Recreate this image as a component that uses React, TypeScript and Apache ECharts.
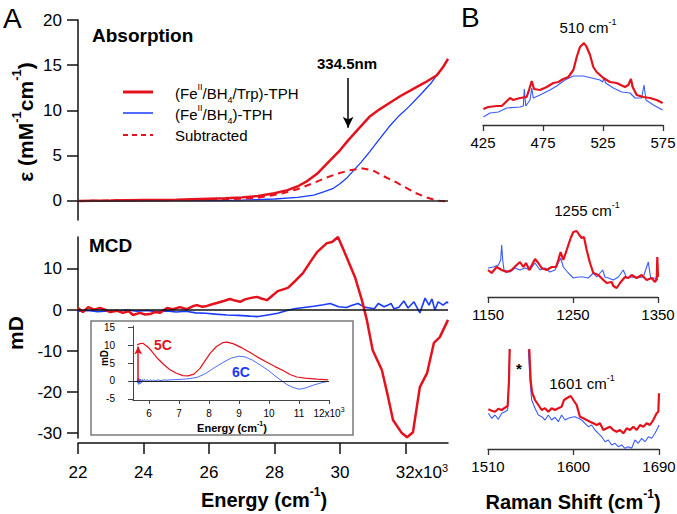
import React, { useEffect, useRef } from "react";
import * as echarts from "echarts";

const FONT = "'Liberation Sans', Arial, Helvetica, sans-serif";
const RED = "#e3121c";
const BLUE = "#1a3bff";
const BLUE_LIGHT = "#3a5cff";
const AXIS = "#111";

// ---------- Tick values ----------
const energyTicks = [22, 24, 26, 28, 30, 32];
const epsTicks = [0, 5, 10, 15, 20];
const mcdTicks = [-30, -20, -10, 0, 10];
const insetXTicks = [6, 7, 8, 9, 10, 11, 12];
const insetYTicks = [-5, 0, 5, 10, 15];
const raman510Ticks = [425, 475, 525, 575];
const raman1255Ticks = [1150, 1250, 1350];
const raman1601Ticks = [1510, 1600, 1690];

// ---------- Absorption (energy x10^3 cm-1, epsilon mM-1 cm-1) ----------
const absTrpTPH = [[22.0,0.0],[22.5,0.03],[23.0,0.05],[23.5,0.08],[24.0,0.1],[24.5,0.12],[25.0,0.15],[25.5,0.2],[26.0,0.25],[26.5,0.3],[27.0,0.4],[27.5,0.55],[28.0,0.85],[28.4,1.2],[28.7,1.6],[29.0,2.2],[29.3,3.0],[29.7,4.5],[30.0,5.6],[30.25,6.7],[30.6,8.1],[30.9,9.3],[31.2,10.1],[31.5,10.8],[31.85,11.6],[32.2,12.3],[32.6,13.1],[32.96,13.9],[33.15,14.8],[33.3,15.7]];
const absTPH = [[22.0,0.0],[23.0,0.0],[24.0,0.02],[25.0,0.03],[26.0,0.05],[27.0,0.1],[27.5,0.15],[28.0,0.22],[28.7,0.4],[29.2,0.65],[29.5,1.0],[29.8,1.4],[30.0,1.9],[30.2,2.5],[30.4,3.3],[30.65,4.3],[30.9,5.4],[31.2,6.8],[31.5,8.2],[31.8,9.4],[32.1,10.4],[32.5,11.9],[32.8,13.1],[32.96,13.9],[33.15,14.8],[33.3,15.7]];
const absSubtracted = [[22.0,0.0],[23.0,0.05],[24.0,0.08],[25.0,0.1],[26.0,0.15],[27.0,0.25],[27.5,0.35],[28.2,0.8],[28.7,1.3],[29.2,2.0],[29.6,2.6],[29.9,3.0],[30.3,3.4],[30.7,3.6],[31.0,3.4],[31.3,2.8],[31.7,2.1],[32.0,1.5],[32.3,0.9],[32.6,0.45],[32.96,0.05],[33.3,-0.05]];

// ---------- MCD (mdeg) ----------
const mcdTrpTPH = [[22.0,0.5],[22.15,-0.5],[22.31,0.7],[22.5,0.1],[22.67,0.5],[22.85,0.0],[22.98,-0.5],[23.2,-0.2],[23.37,-0.7],[23.55,-0.3],[23.68,-1.2],[23.89,-0.7],[24.05,-1.1],[24.2,-1.0],[24.35,-0.5],[24.5,-0.7],[24.72,0.5],[24.9,0.2],[25.11,0.7],[25.33,0.2],[25.5,0.9],[25.63,1.2],[25.8,0.8],[25.94,1.0],[26.1,1.4],[26.24,1.7],[26.45,2.2],[26.64,2.7],[26.8,2.3],[26.95,2.0],[27.1,2.6],[27.25,2.9],[27.47,3.2],[27.6,2.8],[27.77,2.4],[27.95,3.6],[28.1,4.6],[28.41,5.4],[28.65,7.2],[28.87,9.0],[29.1,11.8],[29.3,14.1],[29.45,15.2],[29.6,16.3],[29.76,16.6],[29.94,17.8],[30.15,13.9],[30.46,8.0],[30.67,2.4],[30.82,-2.4],[31.0,-9.8],[31.28,-14.6],[31.45,-20.5],[31.62,-26.8],[31.89,-30.0],[32.05,-31.0],[32.23,-29.8],[32.44,-18.8],[32.66,-15.4],[32.87,-8.0],[33.05,-6.6],[33.3,-2.4]];
const mcdTPH = [[22.0,-0.3],[22.3,-0.1],[22.6,-0.4],[22.9,-0.2],[23.2,-0.3],[23.5,0.0],[23.8,-0.3],[24.1,-0.1],[24.4,-0.4],[24.7,-0.2],[25.0,-0.5],[25.3,-0.3],[25.6,-0.7],[25.9,-0.8],[26.2,-1.0],[26.55,-1.2],[26.9,-1.3],[27.25,-1.5],[27.5,-1.6],[27.8,-1.2],[28.1,-0.8],[28.3,-0.3],[28.6,0.3],[28.9,0.6],[29.2,0.9],[29.5,1.3],[29.7,1.6],[29.96,0.8],[30.2,0.6],[30.35,1.1],[30.55,1.6],[30.75,0.7],[30.9,0.5],[31.05,0.3],[31.17,1.6],[31.35,0.8],[31.47,1.2],[31.56,1.6],[31.65,0.3],[31.8,0.7],[31.95,2.2],[32.08,0.5],[32.26,2.0],[32.44,-0.7],[32.6,2.9],[32.72,1.2],[32.81,2.7],[32.9,0.0],[33.0,2.0],[33.15,1.2],[33.27,2.0],[33.3,1.6]];

// ---------- Inset MCD (energy x10^3 cm-1, mdeg) ----------
const inset5C = [[5.6,10.0],[5.7,10.4],[5.8,10.5],[5.97,9.4],[6.1,8.2],[6.27,6.4],[6.5,4.5],[6.7,3.1],[6.9,2.2],[7.13,1.5],[7.3,1.4],[7.5,1.9],[7.7,3.5],[7.9,6.0],[8.05,7.8],[8.25,9.6],[8.47,10.7],[8.6,10.8],[8.8,10.4],[9.1,9.2],[9.37,7.9],[9.65,6.5],[9.93,5.2],[10.2,4.0],[10.47,2.9],[10.7,1.8],[10.93,1.1],[11.2,0.8],[11.6,0.5],[11.97,0.3]];
const inset6C = [[5.6,0.2],[5.62,-0.6],[5.64,0.8],[5.66,-1.0],[5.68,0.6],[5.7,-0.8],[5.72,0.5],[5.75,-0.5],[5.78,0.4],[5.8,-0.3],[5.85,0.5],[5.9,-0.3],[5.95,0.4],[6.0,-0.2],[6.05,0.4],[6.1,-0.1],[6.15,0.3],[6.2,0.0],[6.3,0.3],[6.4,0.1],[6.5,0.3],[6.6,0.2],[6.7,0.3],[7.0,0.4],[7.3,0.6],[7.6,1.0],[7.8,1.7],[8.0,2.7],[8.2,3.8],[8.5,5.3],[8.75,6.4],[9.0,6.9],[9.2,6.7],[9.45,5.8],[9.7,4.5],[10.0,2.8],[10.2,1.4],[10.4,0.2],[10.6,-1.0],[10.8,-1.8],[11.0,-2.3],[11.2,-2.0],[11.5,-1.1],[11.8,-0.4],[11.97,-0.1]];

// ---------- Raman (shift cm-1, intensity a.u.) ----------
const raman510Trp = [[425.3,16],[429.4,18],[436.4,19],[440.6,19],[447.5,27],[450.3,25],[455.8,27],[461.4,28],[463.6,36],[465.6,44],[467.5,36],[472.5,35],[478.1,38],[483.6,42],[487.8,43],[491.9,46],[496.1,48],[500.3,55],[503.1,68],[505.8,78],[509.2,82],[511.4,78],[514.2,70],[516.9,58],[519.7,53],[525.3,47],[530.8,43],[536.4,42],[543.3,38],[546.1,40],[548.3,46],[549.7,38],[553.1,30],[558.6,28],[564.2,27],[569.7,25],[574.7,22]];
const raman510 = [[425.3,8],[430.8,12],[437.8,13],[444.7,17],[455.8,18],[458.6,19],[459.4,36],[460.6,19],[464.2,25],[465.6,37],[466.9,27],[472.5,30],[480.8,35],[486.4,39],[493.3,45],[500.3,49],[508.6,49],[515.6,47],[522.5,45],[524.7,43],[525.8,47],[527.2,42],[533.6,37],[540.6,33],[547.5,32],[551.7,27],[557.2,27],[559.2,40],[560.8,25],[567.0,20],[574.7,15]];
const raman1255Trp = [[1150,27],[1154.3,24],[1160.2,30],[1166.1,27],[1172,25],[1177.8,27],[1183.7,32],[1187.6,35],[1191.6,30],[1194.7,34],[1198.6,27],[1205.3,38],[1209.2,34],[1213.1,29],[1219,27],[1224.9,30],[1230,30],[1232.7,37],[1235.5,45],[1238.6,37],[1242.6,47],[1247.3,59],[1250.4,65],[1254.3,66],[1257.4,62],[1260.2,59],[1262.9,60],[1266.1,47],[1270,34],[1273.9,24],[1279.8,22],[1285.7,17],[1289.6,14],[1295.5,15],[1297.5,11],[1301.4,9],[1305.3,14],[1311.2,20],[1315.1,19],[1319,22],[1324.9,19],[1330.8,22],[1336.7,17],[1342.6,19],[1346.5,15],[1348.5,18],[1349.2,40],[1350,20]];
const raman1255 = [[1150,29],[1156.3,30],[1162.2,32],[1164.9,37],[1166.1,52],[1167.3,37],[1168.8,27],[1175.9,25],[1181.8,29],[1187.6,27],[1193.5,29],[1199.4,27],[1205.3,34],[1211.2,27],[1217.1,29],[1222.9,25],[1228.8,27],[1232.7,34],[1235.5,39],[1238.6,30],[1244.5,24],[1250.4,19],[1256.3,20],[1262.2,20],[1268,19],[1273.9,24],[1277.8,20],[1284.9,27],[1287.6,20],[1291.6,19],[1297.5,17],[1303.3,20],[1309.2,27],[1313.1,19],[1319,20],[1324.9,19],[1332.7,20],[1338.6,35],[1341.4,19],[1346.5,19],[1350,17]];
const raman1601Trp = [[1510.4,39.7],[1513.9,38.3],[1517.4,37.3],[1520.9,40.3],[1524.4,39],[1527.9,41.3],[1530.7,43],[1532.1,69],[1532.8,99],[1534,220],[1552,220],[1553.5,99],[1554.9,69],[1556.3,57],[1559.5,49],[1563,44],[1566.5,39],[1570,40.7],[1573.5,37.3],[1577,40.7],[1580.5,39],[1584,40.7],[1587.5,42.3],[1590,49],[1592.8,50.7],[1597,53],[1599.8,49],[1603.3,44],[1606.8,32.3],[1610.4,30.7],[1613.9,29],[1617.4,27.3],[1620.9,25.7],[1624.4,24],[1627.9,25.7],[1631.4,19],[1634.9,20.7],[1638.4,22.3],[1641.9,19],[1645.4,17.3],[1648.9,19],[1652.5,15.7],[1656,20.7],[1659.5,19],[1663,22.3],[1666.5,19],[1670,24],[1673.5,22.3],[1677,25.7],[1680.5,24],[1684,29],[1687.5,35.7],[1689.3,37.3],[1690,55.7]];
const raman1601 = [[1510.4,35.7],[1513.9,30.7],[1517.4,34],[1520.9,29.7],[1524.4,35.7],[1527.9,37.3],[1530.7,39],[1532.1,69],[1532.8,99],[1534,220],[1551,220],[1552.5,99],[1554.2,69],[1556,49],[1559.5,40.7],[1563,34],[1566.5,32.3],[1570,29],[1573.5,34],[1577,29],[1580.5,31.7],[1584,27.3],[1587.5,34],[1591.1,29],[1594.6,30.7],[1598.1,31.7],[1601.6,32.3],[1605.1,30.7],[1608.6,29],[1612.1,25.7],[1615.6,22.3],[1619.1,24],[1622.6,19],[1626.1,15.7],[1629.6,12.3],[1633.2,7.3],[1636.7,9],[1640.2,4],[1643.7,5.7],[1647.2,2.3],[1650.7,4],[1654.2,0.7],[1657.7,2.3],[1661.2,0.7],[1664.7,9],[1668.2,5.7],[1671.8,10.7],[1675.3,7.3],[1678.8,12.3],[1682.3,10.7],[1685.8,15.7],[1689.3,22.3],[1690,24]];

// ---------- helpers ----------
function gRich(size: number, weight: string, fill: string, lh: number) {
  const s = Math.round(size * 0.62);
  return {
    n: { fontSize: size, fontWeight: weight, fontFamily: FONT, fill, lineHeight: lh, verticalAlign: "middle" },
    sup: { fontSize: s, fontWeight: weight, fontFamily: FONT, fill, lineHeight: s, verticalAlign: "top" },
    sub: { fontSize: s, fontWeight: weight, fontFamily: FONT, fill, lineHeight: s, verticalAlign: "bottom" },
  };
}

function gText(x: number, y: number, text: string, rich: any, align = "left", rotation = 0) {
  return {
    type: "text",
    x,
    y,
    rotation,
    silent: true,
    z: 50,
    style: { text, rich, align, verticalAlign: "middle", textAlign: align, textVerticalAlign: "middle" },
  };
}

function lineSeries(name: string, xi: number, data: number[][], color: string, width: number, extra: any = {}) {
  return {
    name,
    type: "line",
    xAxisIndex: xi,
    yAxisIndex: xi,
    data,
    showSymbol: false,
    symbol: "none",
    silent: true,
    animation: false,
    lineStyle: { color, width, ...(extra.lineType ? { type: extra.lineType } : {}) },
    itemStyle: { color },
    ...(extra.markLine ? { markLine: extra.markLine } : {}),
    z: extra.z || 2,
  };
}

const zeroLine = (color: string, width: number) => ({
  silent: true,
  symbol: ["none", "none"],
  label: { show: false },
  lineStyle: { color, width, type: "solid" },
  data: [{ yAxis: 0 }],
  animation: false,
});

const arrowLine = (x: number, y1: number, y2: number, color: string, width: number, size: number[]) => ({
  silent: true,
  symbol: ["none", "arrow"],
  symbolSize: size,
  label: { show: false },
  lineStyle: { color, width, type: "solid" },
  data: [[{ coord: [x, y1] }, { coord: [x, y2] }]],
  animation: false,
});

const plainFormatter = (v: number) => String(v);

function valueAxis(gridIndex: number, min: number, max: number, ticks: number[], o: any = {}) {
  const lineStyle = { color: o.color || AXIS, width: o.width || 1.5 };
  return {
    gridIndex,
    type: "value",
    min,
    max,
    show: o.show !== false,
    position: o.position,
    offset: o.offset || 0,
    axisLine: { show: true, onZero: false, lineStyle },
    axisTick: { show: true, inside: false, length: o.tickLen || 10, customValues: ticks, lineStyle },
    axisLabel: {
      show: true,
      customValues: ticks,
      margin: o.margin || 8,
      color: "#000",
      fontSize: o.fontSize || 17,
      fontFamily: FONT,
      formatter: o.formatter || plainFormatter,
      ...(o.rich ? { rich: o.rich } : {}),
    },
    splitLine: { show: false },
  };
}

function axisRich(size: number, supSize: number, pad: number) {
  return {
    n: { fontSize: size, fontFamily: FONT, color: "#000", lineHeight: size + 4, verticalAlign: "middle" },
    p: { fontSize: size, fontFamily: FONT, color: "#000", lineHeight: size + 4, verticalAlign: "middle", padding: [0, 0, 0, pad] },
    sup: { fontSize: supSize, fontFamily: FONT, color: "#000", lineHeight: supSize, verticalAlign: "top" },
  };
}

export default function App() {
  const ref = useRef<HTMLDivElement>(null);

  useEffect(() => {
    if (!ref.current) return;
    const chart = echarts.init(ref.current, null, { renderer: "svg" });

    const bold19 = gRich(19, "bold", "#000", 24);
    const bold20 = gRich(20, "bold", "#000", 28);
    const legend15 = gRich(15, "normal", "#000", 22);
    const raman15 = gRich(15, "normal", "#000", 20);
    const ramanAxis = { position: "bottom", color: "#333", width: 1.3, tickLen: 6, margin: 10, fontSize: 15 };

    const option: any = {
      animation: false,
      backgroundColor: "#ffffff",
      textStyle: { fontFamily: FONT },
      grid: [
        { left: 78, top: 20, width: 370, height: 200, outerBoundsMode: "none" },
        { left: 78, top: 237, width: 370, height: 201, outerBoundsMode: "none" },
        { left: 133, top: 326, width: 196, height: 74, outerBoundsMode: "none" },
        { left: 483, top: 35, width: 180, height: 90, outerBoundsMode: "none" },
        { left: 488, top: 220, width: 170, height: 77, outerBoundsMode: "none" },
        { left: 488, top: 350, width: 171, height: 99, outerBoundsMode: "none" },
      ],
      xAxis: [
        { gridIndex: 0, type: "value", min: 22, max: 33.3, show: false },
        valueAxis(1, 22, 33.3, energyTicks, {
          position: "bottom",
          offset: 5,
          tickLen: 11,
          margin: 19,
          formatter: (v: number) => (v === 32 ? "{p|32}{n|x10}{sup|3}" : "{n|" + v + "}"),
          rich: axisRich(17, 11, 33),
        }),
        valueAxis(2, 5.467, 12, insetXTicks, {
          position: "bottom",
          color: "#444",
          width: 1,
          tickLen: 4,
          margin: 6,
          fontSize: 10,
          formatter: (v: number) => (v === 12 ? "{n|12x10}{sup|3}" : "{n|" + v + "}"),
          rich: axisRich(10, 7, 0),
        }),
        valueAxis(3, 425, 575, raman510Ticks, ramanAxis),
        valueAxis(4, 1150, 1350, raman1255Ticks, ramanAxis),
        valueAxis(5, 1510, 1690, raman1601Ticks, ramanAxis),
      ],
      yAxis: [
        valueAxis(0, -2.1, 20, epsTicks, { tickLen: 11, margin: 16 }),
        valueAxis(1, -31.2, 17.8, mcdTicks, { tickLen: 11, margin: 16 }),
        valueAxis(2, -5.3, 15.3, insetYTicks, { color: "#444", width: 1, tickLen: 5, margin: 18, fontSize: 10 }),
        { gridIndex: 3, type: "value", min: 0, max: 90, show: false },
        { gridIndex: 4, type: "value", min: 0, max: 77, show: false },
        { gridIndex: 5, type: "value", min: 0, max: 99, show: false },
      ],
      series: [
        lineSeries("(FeII/BH4)-TPH", 0, absTPH, BLUE, 1.3, { markLine: zeroLine("#222", 1.5) }),
        lineSeries("Subtracted", 0, absSubtracted, RED, 2, { lineType: [7, 5] }),
        lineSeries("(FeII/BH4/Trp)-TPH", 0, absTrpTPH, RED, 2.5, {
          markLine: arrowLine(30.25, 13.6, 8.1, "#000", 1.5, [8, 11]),
          z: 3,
        }),
        lineSeries("MCD (FeII/BH4)-TPH", 1, mcdTPH, BLUE, 1.6, { markLine: zeroLine("#111", 1.5) }),
        lineSeries("MCD (FeII/BH4/Trp)-TPH", 1, mcdTrpTPH, RED, 2.5, { z: 3 }),
        lineSeries("6C", 2, inset6C, BLUE_LIGHT, 0.9, { markLine: zeroLine("#222", 1) }),
        lineSeries("5C", 2, inset5C, RED, 1.2, { markLine: arrowLine(5.64, 0, 9.6, RED, 1.5, [6, 8]), z: 3 }),
        lineSeries("510 blue", 3, raman510, BLUE_LIGHT, 1.1),
        lineSeries("510 red", 3, raman510Trp, RED, 2.2, { z: 3 }),
        lineSeries("1255 blue", 4, raman1255, BLUE_LIGHT, 1.1),
        lineSeries("1255 red", 4, raman1255Trp, RED, 2.2, { z: 3 }),
        lineSeries("1601 blue", 5, raman1601, BLUE_LIGHT, 1.1),
        lineSeries("1601 red", 5, raman1601Trp, RED, 2.2, { z: 3 }),
      ],
      graphic: [
        {
          type: "rect",
          silent: true,
          z: 1,
          shape: { x: 91, y: 321, width: 262, height: 114 },
          style: { fill: "none", stroke: "#7a7a7a", lineWidth: 1.5 },
        },
        gText(3, 18, "{n|A}", gRich(28, "normal", "#000", 32)),
        gText(461, 17, "{n|B}", gRich(28, "normal", "#000", 32)),
        gText(92, 35, "{n|Absorption}", bold19),
        gText(89, 245, "{n|MCD}", bold19),
        gText(347, 63, "{n|334.5nm}", gRich(15, "bold", "#000", 20), "center"),
        {
          type: "line", silent: true, z: 50,
          shape: { x1: 123, y1: 92, x2: 153, y2: 92 },
          style: { stroke: RED, lineWidth: 3 },
        },
        {
          type: "line", silent: true, z: 50,
          shape: { x1: 123, y1: 113, x2: 153, y2: 113 },
          style: { stroke: BLUE, lineWidth: 1.5 },
        },
        {
          type: "line", silent: true, z: 50,
          shape: { x1: 123, y1: 135, x2: 153, y2: 135 },
          style: { stroke: RED, lineWidth: 2, lineDash: [5, 4] },
        },
        gText(175, 93, "{n|(Fe}{sup|II}{n|/BH}{sub|4}{n|/Trp)-TPH}", legend15),
        gText(175, 114, "{n|(Fe}{sup|II}{n|/BH}{sub|4}{n|)-TPH}", legend15),
        gText(175, 135, "{n|Subtracted}", legend15),
        gText(25, 122, "{n|ε (mM}{sup|-1}{n|cm}{sup|-1}{n|)}", gRich(21, "bold", "#000", 30), "center", Math.PI / 2),
        gText(15, 333, "{n|mD}", gRich(21, "bold", "#000", 26), "center", Math.PI / 2),
        gText(264, 500, "{n|Energy (cm}{sup|-1}{n|)}", bold20, "center"),
        gText(163, 345, "{n|5C}", gRich(14, "bold", RED, 18), "center"),
        gText(241, 372, "{n|6C}", gRich(14, "bold", BLUE, 18), "center"),
        gText(232, 428, "{n|Energy (cm}{sup|-1}{n|)}", gRich(11, "bold", "#000", 16), "center"),
        gText(104, 358, "{n|mD}", gRich(10, "bold", "#000", 14), "center", Math.PI / 2),
        gText(588, 27, "{n|510 cm}{sup|-1}", raman15, "center"),
        gText(587, 210, "{n|1255 cm}{sup|-1}", raman15, "center"),
        gText(582, 383, "{n|1601 cm}{sup|-1}", raman15, "center"),
        gText(519, 368, "{n|*}", gRich(15, "bold", "#000", 18), "center"),
        gText(573, 502, "{n|Raman Shift (cm}{sup|-1}{n|)}", bold20, "center"),
      ],
    };

    chart.setOption(option);
    return () => chart.dispose();
  }, []);

  return (
    <div
      ref={ref}
      style={{ position: "fixed", left: 0, top: 0, width: 677, height: 514, background: "#fff" }}
    />
  );
}
